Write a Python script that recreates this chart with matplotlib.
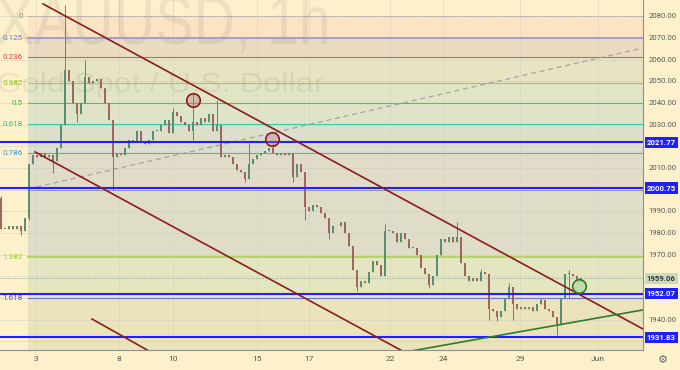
import matplotlib
matplotlib.use('Agg')
import matplotlib.pyplot as plt
from matplotlib.textpath import TextPath
from matplotlib.patches import PathPatch
from matplotlib.font_manager import FontProperties
from matplotlib.transforms import Affine2D, blended_transform_factory

# ---------------- data ----------------
closes = [1982, 1982, 1983, 1982, 1983, 1981, 1987, 2012, 2016, 2015,
          2017, 2015, 2016, 2013, 2019, 2030, 2055, 2050, 2040, 2035,
          2040, 2052, 2049, 2050, 2051, 2047, 2040, 2032, 2015, 2017,
          2016, 2019, 2023, 2022, 2027, 2022, 2021, 2023, 2027, 2027,
          2030, 2032, 2026, 2036, 2034, 2031, 2030, 2027, 2031, 2030,
          2033, 2031, 2035, 2027, 2030, 2015, 2016, 2015, 2012, 2009,
          2008, 2005, 2012, 2014, 2016, 2017, 2018, 2019, 2017, 2016,
          2017, 2016, 2017, 2006, 2012, 2008, 1992, 1990, 1993, 1992,
          1989, 1987, 1980, 1983, 1983, 1985, 1980, 1974, 1963, 1955,
          1958, 1957, 1962, 1967, 1965, 1960, 1981, 1981, 1980, 1976,
          1980, 1977, 1973, 1973, 1970, 1964, 1961, 1956, 1960, 1970,
          1977, 1976, 1978, 1976, 1978, 1966, 1960, 1958, 1959, 1958,
          1962, 1961, 1945, 1944, 1941, 1944, 1950, 1955, 1947, 1945,
          1946, 1945, 1946, 1944, 1947, 1949, 1945, 1944, 1941, 1938,
          1950, 1961, 1961, 1960, 1958, 1959.06]
first_open = 1996
wick_highs = {0: 1997, 16: 2085, 21: 2060, 43: 2037.5, 48: 2044.6, 54: 2041.4,
              62: 2021.6, 68: 2021.4, 96: 1984, 114: 1985, 120: 1963.5,
              127: 1957, 135: 1950, 142: 1963}
wick_lows = {5: 1979, 7: 1986, 13: 2007.5, 19: 2031, 28: 1999.8, 48: 2023,
             61: 2003.5, 73: 2003.5, 76: 1986, 82: 1977, 89: 1953, 107: 1954.4,
             122: 1940, 124: 1939.5, 128: 1940, 139: 1933, 142: 1950}

date_labels = ['3', '8', '10', '15', '17', '22', '24', '29', 'Jun']
date_pos = [8.75, 29.5, 43, 64, 77, 97.25, 110.5, 129.75, 149.25]

price_ticks = [2080, 2070, 2060, 2050, 2040, 2030, 2010, 1990, 1980, 1970, 1940]
key_levels = [2021.77, 2000.75, 1952.07, 1931.83]
last_price = 1959.06

fib_high = 2080.0
fib_low = 1999.7
fib_start = 6.75
fib_levels = [0, 0.125, 0.236, 0.382, 0.5, 0.618, 0.786, 1, 1.382, 1.618]
fib_text = ['0', '0.125', '0.236', '0.382', '0.5', '0.618', '0.786', '', '1.382', '1.618']
fib_line_colors = ['#9a9a9a', '#a99bd8', '#e06060', '#a9c64a', '#58c058', '#40c9a4',
                   '#6aa6c6', '#9a9a9a', '#b7d468', '#6f6fe0']
fib_text_colors = ['#8a8a8a', '#7f6fd0', '#e04545', '#98bb2a', '#3fb43f', '#2fbf95',
                   '#4a92c2', '#888888', '#a5c83c', '#5050cc']
fib_zone_colors = ['#fce4c3', '#e9dcc1', '#e6e4c3', '#e1e5c5', '#dee3c9', '#dcdfcc',
                   '#e0dcc8', '#dfdcc7', '#e4e6c1', '#ebe4bb']

# trend lines (bar index, price)
upper_channel = ([10.5, 160.5], [2085.7, 1935.7])
lower_channel = ([8.5, 105], [2017.4, 1920.9])
short_line = ([22.75, 38], [1940.3, 1924.5])
support_line = ([103, 160.5], [1925.7, 1944.5])
dashed_line = ([6.75, 160.5], [2000.3, 2065.4])
red_circles = ([48, 67.75], [2041.3, 2023.4])
green_circle = ([144.5], [1955.6])

# ---------------- figure ----------------
W, H = 680, 370
BG = '#fdf1cc'
plt.rcParams['font.family'] = ['Roboto', 'DejaVu Sans']
fig = plt.figure(figsize=(W / 100, H / 100), dpi=100)
fig.patch.set_facecolor(BG)
ax = fig.add_axes([0, 20 / H, 643 / W, 350 / H])
ax.set_facecolor(BG)
YMIN, YMAX = 1926.0, 2087.5
XMIN, XMAX = -0.25, 160.5
ax.set_xlim(XMIN, XMAX)
ax.set_ylim(YMIN, YMAX)

# fib zones & lines
fib_prices = [fib_high - (fib_high - fib_low) * l for l in fib_levels]
bounds = fib_prices + [YMIN - 5]
for i, c in enumerate(fib_zone_colors):
    ax.fill_between([fib_start, XMAX + 1], bounds[i + 1], bounds[i], color=c,
                    lw=0, zorder=0.5)
for i, p in enumerate(fib_prices):
    lw = 1.5 if fib_levels[i] in (0.125, 1.382) else 0.8
    ls = (0, (1, 1)) if fib_levels[i] == 0 else '-'
    ax.plot([fib_start, XMAX + 1], [p, p], color=fib_line_colors[i], lw=lw, ls=ls,
            zorder=2)
    if fib_text[i]:
        ax.text(5.4, p, fib_text[i], color=fib_text_colors[i], fontsize=5.8,
                ha='right', va='center', zorder=6)

# grid
for p in range(1930, 2090, 10):
    ax.axhline(p, color='#cfcdc2', lw=0.6, alpha=0.6, zorder=0.8)
for x in date_pos:
    ax.axvline(x, color='#d5d3c8', lw=0.6, alpha=0.7, zorder=0.8)

# watermark
def watermark(text, left, right, baseline, cap):
    fp = FontProperties(family='Liberation Sans')
    tp = TextPath((0, 0), text, size=100, prop=fp)
    bb = tp.get_extents()
    caph = TextPath((0, 0), 'H', size=100, prop=fp).get_extents().height
    tr = (Affine2D().translate(-bb.x0, 0)
          .scale((right - left) / bb.width, cap / caph)
          .translate(left, H - baseline))
    patch = PathPatch(tp, transform=tr, fc='#5a5a5a', ec='none', alpha=0.1,
                      zorder=1.5)
    ax.add_artist(patch)

watermark('XAUUSD, 1h', -3, 327, 44, 47)
watermark('Gold Spot / U.S. Dollar', -2, 324, 92, 19)

# candles
opens = [first_open] + closes[:-1]
up_c, dn_c = '#5a8d72', '#9c685e'
for i, (o, c) in enumerate(zip(opens, closes)):
    hi = max(o, c, wick_highs.get(i, max(o, c)))
    lo = min(o, c, wick_lows.get(i, min(o, c)))
    col = up_c if c >= o else dn_c
    ax.plot([i, i], [lo, hi], color=col, lw=0.7, zorder=3, solid_capstyle='butt')
    b = min(o, c)
    h = max(abs(c - o), 0.35)
    ax.bar(i, h, bottom=b, width=0.45, color=col, lw=0, zorder=3.1)

# current price dotted line
ax.axhline(last_price, color='#8ea585', lw=0.7, ls=(0, (1, 1.5)), zorder=2.5)

# key blue levels
for p in key_levels:
    ax.axhline(p, color='#1f1fff', lw=1.5, zorder=3.5)

# trend lines
maroon = '#8b1c1c'
for xs, ys in (upper_channel, lower_channel, short_line):
    ax.plot(xs, ys, color=maroon, lw=1.2, zorder=4)
ax.plot(*support_line, color='#2e7d2e', lw=1.2, zorder=4)
ax.plot(*dashed_line, color='#a3a3a3', lw=0.9, ls=(0, (4, 3)), zorder=2.2)
ax.scatter(*red_circles, s=95, facecolor=(0.72, 0.45, 0.45, 0.35), edgecolor=maroon,
           lw=1.2, zorder=5)
ax.scatter(*green_circle, s=95, facecolor=(0.4, 0.75, 0.4, 0.25), edgecolor='#2e7d2e',
           lw=1.2, zorder=5)

# axes styling
for s in ('left', 'top'):
    ax.spines[s].set_visible(False)
for s in ('right', 'bottom'):
    ax.spines[s].set_color('#8f8f8f')
    ax.spines[s].set_linewidth(0.8)
ax.set_yticks([])
ax.set_xticks(date_pos)
ax.set_xticklabels(date_labels)
ax.tick_params(axis='x', length=0, pad=4.5, labelsize=6, labelcolor='#555555')

# right price scale
tr = blended_transform_factory(ax.transAxes, ax.transData)
for p in price_ticks:
    ax.text(1.008, p, f'{p:.2f}', transform=tr, fontsize=5.6, color='#5a5a5a',
            ha='left', va='center', clip_on=False)
for p in key_levels:
    ax.text(1.006, p, f'{p:.2f}', transform=tr, fontsize=5.6, color='white',
            fontweight='bold', ha='left', va='center', clip_on=False,
            bbox=dict(boxstyle='square,pad=0.3', fc='#1f1fff', ec='none'))
ax.text(1.006, last_price, f'{last_price:.2f}', transform=tr, fontsize=5.6,
        color='#333333', fontweight='bold', ha='left', va='center', clip_on=False,
        bbox=dict(boxstyle='square,pad=0.3', fc='#c9dcc0', ec='none'))

fig.text(663 / W, 1 - 360 / H, '\u2699', family='DejaVu Sans', fontsize=8,
         color='#666666', ha='center', va='center')

fig.savefig('out.png', dpi=100, facecolor=BG)
